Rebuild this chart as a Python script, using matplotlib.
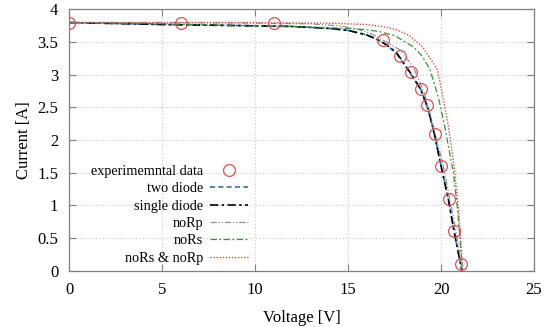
import matplotlib
matplotlib.use("Agg")
from matplotlib import pyplot as plt

plt.rcParams['font.family'] = ['Liberation Serif', 'DejaVu Serif']

# measured points
v_exp = [0, 6, 11, 16.9, 17.8, 18.4, 18.9, 19.25, 19.65, 20.0, 20.4, 20.7, 21.05]
i_exp = [3.8, 3.8, 3.8, 3.53, 3.29, 3.05, 2.79, 2.54, 2.09, 1.6, 1.1, 0.61, 0.1]

# model curves
v_two = [0, 5, 10, 12, 14, 15, 16, 16.5, 17, 17.6, 18.3, 18.9, 19.3, 19.65, 20.0, 20.4, 20.7, 21.05, 21.12]
i_two = [3.80, 3.77, 3.75, 3.74, 3.71, 3.68, 3.61, 3.55, 3.47, 3.33, 3.04, 2.78, 2.47, 2.08, 1.6, 1.08, 0.6, 0.1, 0.0]

v_single = [0, 5, 10, 12, 14, 15, 16, 16.5, 17, 17.6, 18.3, 18.9, 19.3, 19.65, 20.0, 20.4, 20.7, 21.05, 21.12]
i_single = [3.80, 3.77, 3.75, 3.74, 3.71, 3.68, 3.61, 3.55, 3.47, 3.34, 3.05, 2.78, 2.48, 2.08, 1.6, 1.08, 0.6, 0.1, 0.0]

v_norp = [0, 5, 10, 13, 14.5, 15.5, 16.3, 17, 17.8, 18.5, 19.1, 19.6, 20.1, 20.5, 20.8, 21.15]
i_norp = [3.80, 3.80, 3.79, 3.78, 3.75, 3.70, 3.62, 3.51, 3.38, 3.12, 2.72, 2.2, 1.62, 1.05, 0.6, 0.0]

v_nors = [0, 5, 10, 12, 14, 15, 16, 16.7, 17.5, 18.5, 19.0, 19.4, 19.85, 20.2, 20.65, 20.9, 21.15]
i_nors = [3.80, 3.78, 3.75, 3.74, 3.72, 3.71, 3.69, 3.66, 3.60, 3.43, 3.28, 3.08, 2.66, 2.2, 1.52, 0.9, 0.0]

v_both = [0, 5, 10, 14, 16, 17, 17.6, 18.3, 19.0, 19.8, 20.1, 20.4, 20.7, 20.95, 21.17]
i_both = [3.80, 3.80, 3.80, 3.79, 3.77, 3.73, 3.69, 3.60, 3.43, 3.08, 2.66, 2.2, 1.6, 0.9, 0.0]

fig = plt.figure(figsize=(5.5, 3.27), dpi=100)
ax = fig.add_axes([0.126, 0.172, 0.845, 0.799])

ax.plot(v_exp, i_exp, 'o', mfc='none', mec='#e05050', ms=8.5, mew=0.9,
        label="experimemntal data", zorder=5)
ax.plot(v_two, i_two, color='#2f6db5', ls=(0, (3, 2)), lw=1.2, label="two diode")
ax.plot(v_single, i_single, color='black', ls=(0, (5, 2, 1.5, 2)), lw=1.2, label="single diode")
ax.plot(v_norp, i_norp, color='#909090', ls=(0, (5, 1.5, 1, 1.5, 1, 1.5)), lw=0.9, label="noRp")
ax.plot(v_nors, i_nors, color='#2e9a2e', ls=(0, (5, 2, 1.5, 2)), lw=0.9, label="noRs")
ax.plot(v_both, i_both, color='#d8503a', ls=(0, (1, 1.2)), lw=1.0, label="noRs & noRp")

ax.set_xlim(0, 25)
ax.set_ylim(0, 4)
ax.set_xticks([0, 5, 10, 15, 20, 25])
ax.set_yticks([0, 0.5, 1, 1.5, 2, 2.5, 3, 3.5, 4])
ax.set_yticklabels(['0', '0.5', '1', '1.5', '2', '2.5', '3', '3.5', '4'])
ax.tick_params(direction='in', top=True, right=True, length=5, width=0.8,
               color='#808080', labelsize=12, pad=8)
ax.grid(True, ls=(0, (1, 2)), color='#c8c8c8', lw=0.8)
for s in ax.spines.values():
    s.set_color('#808080')
    s.set_linewidth(0.9)

ax.set_xlabel("Voltage [V]", fontsize=12, labelpad=9)
ax.set_ylabel("Current [A]", fontsize=12, labelpad=4)

ax.legend(loc='center right', bbox_to_anchor=(0.405, 0.214), frameon=False,
          markerfirst=False, fontsize=10.3, handlelength=2.6, handletextpad=0.5,
          labelspacing=0.3, borderpad=0.2)

fig.savefig("out.png", dpi=100)
